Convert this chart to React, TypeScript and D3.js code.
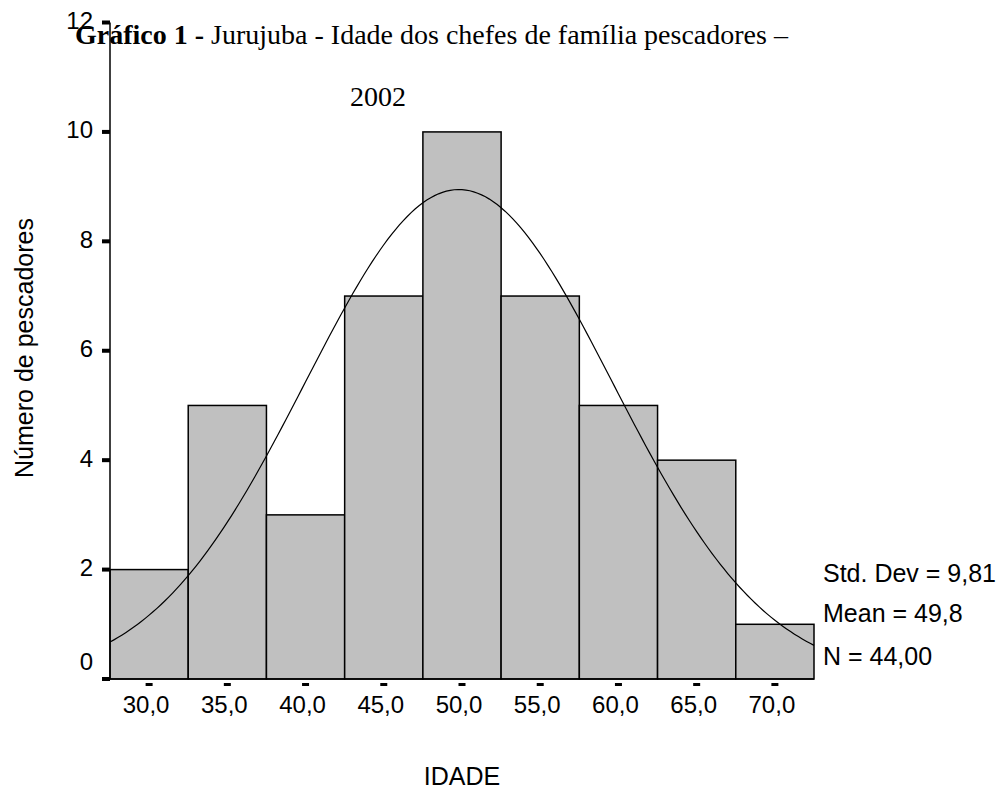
import React, { useEffect, useRef } from 'react';
import * as d3 from 'd3';

// histogram bins (IDADE) and counts
const binStarts = [27.5, 32.5, 37.5, 42.5, 47.5, 52.5, 57.5, 62.5, 67.5];
const binWidth = 5;
const counts = [2, 5, 3, 7, 10, 7, 5, 4, 1];
const xTickLabels = ['30,0', '35,0', '40,0', '45,0', '50,0', '55,0', '60,0', '65,0', '70,0'];
const yTicks = [0, 2, 4, 6, 8, 10, 12];
// normal fit stats shown on the chart
const stats = [9.81, 49.8, 44];
const statLabels = ['Std. Dev = 9,81', 'Mean = 49,8', 'N = 44,00'];

const W = 1005;
const H = 790;
const sansFont = '"Liberation Sans", Arial, sans-serif';
const serifFont = '"Liberation Serif", "Times New Roman", serif';

export default function App() {
  const ref = useRef<SVGSVGElement>(null);

  useEffect(() => {
    const svg = d3.select(ref.current);
    svg.selectAll('*').remove();

    const x = d3.scaleLinear().domain([27.5, 72.5]).range([110, 814]);
    const y = d3.scaleLinear().domain([0, 12]).range([679, 22.5]);

    // bars
    svg.append('g')
      .selectAll('rect')
      .data(counts)
      .enter()
      .append('rect')
      .attr('x', (d, i) => x(binStarts[i]))
      .attr('y', d => y(d))
      .attr('width', (d, i) => x(binStarts[i] + binWidth) - x(binStarts[i]))
      .attr('height', d => y(0) - y(d))
      .attr('fill', '#c0c0c0')
      .attr('stroke', '#000')
      .attr('stroke-width', 1.5);

    // normal curve
    const sd = stats[0], mean = stats[1], n = stats[2];
    const pts = d3.range(27.5, 72.51, 0.25).map(v => {
      const z = (v - mean) / sd;
      return [v, n * binWidth * Math.exp(-0.5 * z * z) / (sd * Math.sqrt(2 * Math.PI))];
    });
    const line = d3.line<number[]>().x(d => x(d[0])).y(d => y(d[1]));
    svg.append('path')
      .datum(pts)
      .attr('d', line)
      .attr('fill', 'none')
      .attr('stroke', '#000')
      .attr('stroke-width', 1.2);

    // axes lines
    svg.append('line')
      .attr('x1', 110).attr('x2', 110).attr('y1', y(12)).attr('y2', y(0))
      .attr('stroke', '#000').attr('stroke-width', 1.5);
    svg.append('line')
      .attr('x1', 110).attr('x2', 814).attr('y1', y(0)).attr('y2', y(0))
      .attr('stroke', '#000').attr('stroke-width', 1.5);

    // y ticks
    const yg = svg.append('g');
    yg.selectAll('rect')
      .data(yTicks)
      .enter()
      .append('rect')
      .attr('x', 102).attr('width', 8)
      .attr('y', d => y(d) - 2).attr('height', 4)
      .attr('fill', '#000');
    yg.selectAll('text')
      .data(yTicks)
      .enter()
      .append('text')
      .attr('x', 93)
      .attr('y', d => y(d) + (d === 0 ? -17 : -2))
      .attr('dy', '0.35em')
      .attr('text-anchor', 'end')
      .attr('font-family', sansFont)
      .attr('font-size', 24)
      .text(d => d);

    // x ticks
    const xg = svg.append('g');
    xg.selectAll('rect')
      .data(binStarts)
      .enter()
      .append('rect')
      .attr('x', d => x(d + binWidth / 2) - 3.5).attr('width', 7)
      .attr('y', y(0) + 4).attr('height', 3)
      .attr('fill', '#000');
    xg.selectAll('text')
      .data(binStarts)
      .enter()
      .append('text')
      .attr('x', (d) => x(d + binWidth / 2) - 3)
      .attr('y', 713)
      .attr('text-anchor', 'middle')
      .attr('font-family', sansFont)
      .attr('font-size', 24)
      .text((d, i) => xTickLabels[i]);

    // axis titles
    svg.append('text')
      .attr('x', 462).attr('y', 785)
      .attr('text-anchor', 'middle')
      .attr('font-family', sansFont)
      .attr('font-size', 25)
      .text('IDADE');
    svg.append('text')
      .attr('transform', 'translate(33,348) rotate(-90)')
      .attr('text-anchor', 'middle')
      .attr('font-family', sansFont)
      .attr('font-size', 25)
      .text('Número de pescadores');

    // stats
    svg.append('g')
      .selectAll('text')
      .data(statLabels)
      .enter()
      .append('text')
      .attr('x', 823)
      .attr('y', (d, i) => [582, 622, 665][i])
      .attr('font-family', sansFont)
      .attr('font-size', 25)
      .text(d => d);

    // title
    const t = svg.append('text')
      .attr('x', 75).attr('y', 44)
      .attr('font-family', serifFont)
      .attr('font-size', 28);
    t.append('tspan').attr('font-weight', 'bold').text('Gráfico 1 - ');
    t.append('tspan').text('Jurujuba - Idade dos chefes de família pescadores –');
    svg.append('text')
      .attr('x', 378).attr('y', 106)
      .attr('text-anchor', 'middle')
      .attr('font-family', serifFont)
      .attr('font-size', 28)
      .text('2002');
  }, []);

  return (
    <svg ref={ref} width={W} height={H}
      style={{ position: 'absolute', left: 0, top: 0, background: '#fff' }} />
  );
}
